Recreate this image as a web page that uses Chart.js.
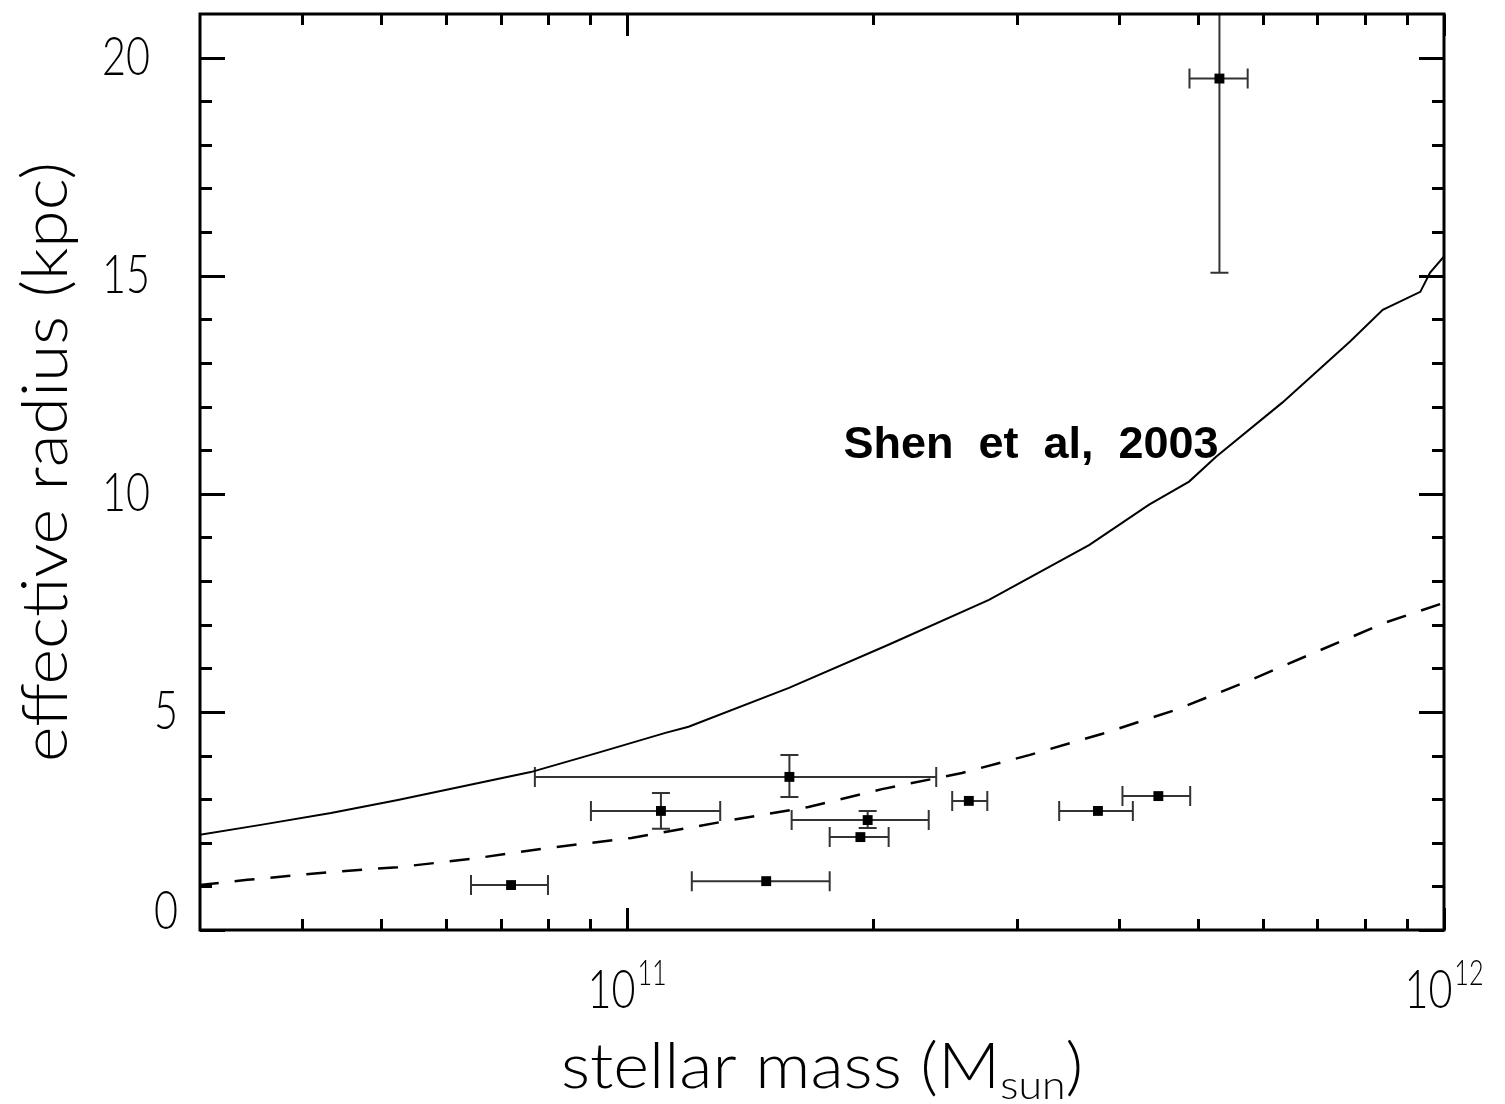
<!DOCTYPE html>
<html>
<head>
<meta charset="utf-8">
<script src="https://cdn.jsdelivr.net/npm/chart.js@4.4.0/dist/chart.umd.min.js"></script>
<style>
html, body { margin: 0; padding: 0; background: #fff; }
</style>
</head>
<body>
<canvas id="chart" width="1505" height="1104"></canvas>
<script>
// Shen et al. 2003 size-mass relation (solid) and the lower relation (dashed)
const curveMass = [2.99e10, 3.56e10, 4.34e10, 5.24e10, 6.32e10, 7.62e10, 9.20e10, 1.114e11, 1.189e11,
  1.578e11, 2.089e11, 2.773e11, 3.681e11, 4.355e11, 4.875e11, 5.26e11, 6.339e11, 7.674e11,
  8.414e11, 9.354e11, 9.616e11, 1.0e12];
const curveRadius = [2.18, 2.41, 2.68, 2.98, 3.30, 3.62, 4.06, 4.52, 4.66, 5.55, 6.54, 7.57, 8.83,
  9.75, 10.28, 10.85, 12.09, 13.49, 14.22, 14.63, 15.07, 15.44];

const dashMass = [2.99e10, 3.43e10, 4.34e10, 5.24e10, 6.44e10, 8.0e10, 1.012e11, 1.343e11, 1.667e11,
  2.051e11, 2.57e11, 3.105e11, 3.819e11, 4.699e11, 5.728e11, 6.982e11, 8.511e11, 1.0e12];
const dashRadius = [1.03, 1.15, 1.33, 1.44, 1.63, 1.88, 2.11, 2.52, 2.82, 3.23, 3.60, 4.01, 4.50,
  5.05, 5.69, 6.38, 7.06, 7.50];

// galaxies with error bars
const galMass   = [7.21e10, 1.10e11, 1.48e11, 1.58e11, 1.93e11, 1.97e11, 2.62e11, 3.77e11, 4.47e11, 5.31e11];
const galMassLo = [6.44e10, 9.03e10, 1.20e11, 7.71e10, 1.77e11, 1.59e11, 2.50e11, 3.38e11, 4.04e11, 4.88e11];
const galMassHi = [8.00e10, 1.30e11, 1.77e11, 2.39e11, 2.09e11, 2.34e11, 2.76e11, 4.16e11, 4.89e11, 5.75e11];
const galRad    = [1.03, 2.73, 1.12, 3.51, 2.13, 2.52, 2.96, 2.73, 3.07, 19.52];
const galRadLo  = [1.03, 2.32, 1.12, 3.05, 2.13, 2.34, 2.96, 2.73, 3.07, 15.07];
const galRadHi  = [1.03, 3.14, 1.12, 4.01, 2.13, 2.73, 2.96, 2.73, 3.07, 24.0];

// axes
const xMajor = [1e11, 1e12];
const xMinor = [4e10, 5e10, 6e10, 7e10, 8e10, 9e10, 2e11, 3e11, 4e11, 5e11, 6e11, 7e11, 8e11, 9e11];
const xLabelBase = ['10', '10'];
const xLabelExp = ['11', '12'];
const yMajor = [0, 5, 10, 15, 20];
const yMinor = [1, 2, 3, 4, 6, 7, 8, 9, 11, 12, 13, 14, 16, 17, 18, 19];
const yLabels = ['0', '5', '10', '15', '20'];

const FONT = 'Lato';
const toXY = (xs, ys) => xs.map((x, i) => ({x: x, y: ys[i]}));

// text stretched/condensed horizontally
function text(ctx, str, x, y, sx) {
  ctx.save();
  ctx.translate(x, y);
  ctx.scale(sx, 1);
  ctx.fillText(str, 0, 0);
  ctx.restore();
}

const errorBars = {
  id: 'errorBars',
  beforeDatasetsDraw(chart) {
    const {ctx, chartArea: a, scales: {x, y}} = chart;
    ctx.save();
    ctx.beginPath();
    ctx.rect(a.left, a.top, a.right - a.left, a.bottom - a.top);
    ctx.clip();
    ctx.strokeStyle = '#333';
    ctx.lineWidth = 2;
    galMass.forEach((m, i) => {
      const px = x.getPixelForValue(m), py = y.getPixelForValue(galRad[i]);
      const x0 = x.getPixelForValue(galMassLo[i]), x1 = x.getPixelForValue(galMassHi[i]);
      ctx.beginPath();
      ctx.moveTo(x0, py); ctx.lineTo(x1, py);
      ctx.moveTo(x0, py - 10); ctx.lineTo(x0, py + 10);
      ctx.moveTo(x1, py - 10); ctx.lineTo(x1, py + 10);
      if (galRadHi[i] > galRad[i]) {
        const y0 = y.getPixelForValue(galRadLo[i]), y1 = y.getPixelForValue(galRadHi[i]);
        ctx.moveTo(px, y0); ctx.lineTo(px, y1);
        ctx.moveTo(px - 9, y0); ctx.lineTo(px + 9, y0);
        ctx.moveTo(px - 9, y1); ctx.lineTo(px + 9, y1);
      }
      ctx.stroke();
    });
    ctx.restore();
  }
};

const frame = {
  id: 'frame',
  afterDraw(chart) {
    const {ctx, chartArea: a, scales: {x, y}} = chart;
    ctx.save();
    ctx.strokeStyle = '#000';
    ctx.lineWidth = 3;
    ctx.strokeRect(a.left, a.top, a.right - a.left, a.bottom - a.top);

    const xt = (v, len) => {
      const p = Math.round(x.getPixelForValue(v)) + 0.5;
      ctx.moveTo(p, a.bottom); ctx.lineTo(p, a.bottom - len);
      ctx.moveTo(p, a.top); ctx.lineTo(p, a.top + len);
    };
    const yt = (v, len) => {
      const p = Math.round(y.getPixelForValue(v)) + 0.5;
      ctx.moveTo(a.left, p); ctx.lineTo(a.left + len, p);
      ctx.moveTo(a.right, p); ctx.lineTo(a.right - len, p);
    };
    ctx.beginPath();
    xMajor.forEach(v => xt(v, 22));
    xMinor.forEach(v => xt(v, 11));
    yMajor.forEach(v => yt(v, 25));
    yMinor.forEach(v => yt(v, 12));
    ctx.stroke();

    // tick labels (narrow digits)
    const cond = 0.78;
    ctx.fillStyle = '#000';
    ctx.font = '300 53px ' + FONT;
    ctx.textBaseline = 'middle';
    ctx.textAlign = 'right';
    yMajor.forEach((v, i) => {
      let p = y.getPixelForValue(v);
      p = Math.min(p, a.bottom - 18);
      const right = yLabels[i].length > 1 ? 150 : 178;
      text(ctx, yLabels[i], right, p, cond);
    });

    ctx.textBaseline = 'alphabetic';
    ctx.textAlign = 'left';
    xMajor.forEach((v, i) => {
      const p = x.getPixelForValue(v);
      ctx.font = '300 53px ' + FONT;
      const wb = ctx.measureText(xLabelBase[i]).width * cond;
      ctx.font = '300 36px ' + FONT;
      const we = ctx.measureText(xLabelExp[i]).width * 0.7;
      const left = p - (wb + we + 2) / 2;
      ctx.font = '300 53px ' + FONT;
      text(ctx, xLabelBase[i], left, 1008, cond);
      ctx.font = '300 36px ' + FONT;
      text(ctx, xLabelExp[i], left + wb + 2, 985, 0.7);
    });

    // axis titles
    const sx = 1.07;
    const t1 = 'stellar mass (M', t2 = 'sun', t3 = ')';
    ctx.font = '300 64px ' + FONT;
    const w1 = ctx.measureText(t1).width * sx, w3 = ctx.measureText(t3).width * sx;
    ctx.font = '300 40px ' + FONT;
    const w2 = ctx.measureText(t2).width * sx;
    const tx = (a.left + a.right) / 2 - (w1 + w2 + w3) / 2;
    ctx.font = '300 64px ' + FONT;
    text(ctx, t1, tx, 1088, sx);
    ctx.font = '300 40px ' + FONT;
    text(ctx, t2, tx + w1, 1099, sx);
    ctx.font = '300 64px ' + FONT;
    text(ctx, t3, tx + w1 + w2, 1088, sx);

    ctx.save();
    ctx.translate(67, 462);
    ctx.rotate(-Math.PI / 2);
    ctx.scale(1.06, 1);
    ctx.textAlign = 'center';
    ctx.font = '300 64px ' + FONT;
    ctx.fillText('effective radius (kpc)', 0, 0);
    ctx.restore();

    // annotation
    ctx.font = 'bold 45px "Liberation Sans", Arial, sans-serif';
    ctx.textAlign = 'left';
    ctx.fillText('Shen  et  al,  2003', x.getPixelForValue(1.84e11), y.getPixelForValue(10.83));
    ctx.restore();
  }
};

new Chart(document.getElementById('chart'), {
  type: 'scatter',
  data: {
    datasets: [
      {
        label: 'Shen et al, 2003',
        data: toXY(curveMass, curveRadius),
        showLine: true,
        borderColor: '#000',
        borderWidth: 2,
        pointRadius: 0,
        tension: 0
      },
      {
        label: 'dashed',
        data: toXY(dashMass, dashRadius),
        showLine: true,
        borderColor: '#000',
        borderWidth: 2.5,
        borderDash: [20, 16],
        pointRadius: 0,
        tension: 0
      },
      {
        label: 'galaxies',
        data: toXY(galMass, galRad),
        pointStyle: 'rect',
        pointRadius: 7,
        backgroundColor: '#000',
        borderWidth: 0
      }
    ]
  },
  options: {
    responsive: false,
    animation: false,
    devicePixelRatio: 1,
    layout: { padding: { top: 14, right: 61, left: 0, bottom: 0 } },
    plugins: { legend: { display: false }, tooltip: { enabled: false } },
    scales: {
      x: {
        type: 'logarithmic', min: 3e10, max: 1e12,
        grid: { display: false }, border: { display: false },
        ticks: { display: false },
        afterFit(s) { s.height = 174; }
      },
      y: {
        min: 0, max: 21,
        grid: { display: false }, border: { display: false },
        ticks: { display: false },
        afterFit(s) { s.width = 200; }
      }
    }
  },
  plugins: [errorBars, frame]
});
</script>
</body>
</html>
